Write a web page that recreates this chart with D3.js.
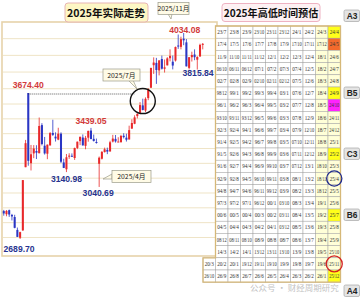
<!DOCTYPE html>
<html>
<head>
<meta charset="utf-8">
<script src="https://cdn.jsdelivr.net/npm/d3@7"></script>
<style>
html, body { margin: 0; padding: 0; background: #fff; }
svg { display: block; }
</style>
</head>
<body>
<svg id="chart" width="360" height="300"></svg>
<script>
// Weekly candles, Aug 2024 - Dec 2025.
var weeks = ['24/08/09','24/08/16','24/08/23','24/08/30','24/09/06','24/09/13','24/09/20','24/09/27','24/09/30',
    '24/10/11','24/10/18','24/10/25','24/11/01','24/11/08','24/11/15','24/11/22','24/11/29','24/12/06','24/12/13',
    '24/12/20','24/12/27','25/01/03','25/01/10','25/01/17','25/01/24','25/01/27','25/02/07','25/02/14','25/02/21',
    '25/02/28','25/03/07','25/03/14','25/03/21','25/03/28','25/04/03','25/04/11','25/04/18','25/04/25','25/04/30',
    '25/05/09','25/05/16','25/05/23','25/05/30','25/06/06','25/06/13','25/06/20','25/06/27','25/07/04','25/07/11',
    '25/07/18','25/07/25','25/08/01','25/08/08','25/08/15','25/08/22','25/08/29','25/09/05','25/09/12','25/09/19',
    '25/09/26','25/09/30','25/10/10','25/10/17','25/10/24','25/10/31','25/11/07','25/11/14','25/11/21','25/11/28',
    '25/12/05','25/12/12','25/12/19','25/12/26','25/12/31'];
var opens = [2878,2857,2884,2852,2838,2751,2698,2748,3174,3674.4,3201,3267,3283,3268,3458,3319,3265,3321,3405,
    3380,3360,3400,3206,3160,3245,3251,3236,3304,3350,3374,3318,3373,3421,3365,3344,3197,3231,3276,3291,
    3280,3347,3365,3345,3342,3386,3373,3361,3434,3467,3519,3540,3591,3556,3640,3706,3841,3855,3810,3878,
    3820,3840,3883,3862,3869,3959,3951,4000,3978,3825,3889,3905,3874,3893,3965];
var highs = [2886,2885,2888,2859,2853,2767,2739,3087,3358,3674.4,3324,3323,3322,3509,3471,3378,3327,3411,3494,
    3409,3440,3409,3231,3263,3268,3267,3306,3347,3380,3395,3385,3420,3439.05,3394,3367,3246,3283,3306,3306,
    3352,3392,3391,3376,3392,3403,3400,3454,3497,3524,3537,3613,3636,3645,3704,3825,3888,3885,3871,3899,
    3875,3889,3936,3899,3953,4025,4012,4034.08,3998,3889,3922,3936,3895,3970,3974];
var lows = [2847,2843,2839,2815,2762,2703,2689.7,2744,3174,3184,3152,3235,3229,3268,3321,3259,3228,3320,3385,
    3347,3356,3202,3168,3140.98,3230,3246,3223,3296,3323,3320,3295,3346,3362,3347,3333,3040.69,3226,3273,3262,
    3280,3341,3340,3345,3342,3368,3347,3361,3434,3464,3503,3534,3557,3546,3626,3705,3789,3729,3780,3815,
    3797,3840,3864,3816,3863,3939,3936,3961,3834,3815.84,3863,3871,3815,3893,3936];
var closes = [2862,2879,2855,2842,2765,2704,2736,3087,3336,3217,3261,3300,3272,3452,3330,3267,3326,3404,3392,
    3368,3400,3211,3169,3241,3252,3250,3303,3346,3379,3321,3372,3419,3364,3351,3342,3238,3277,3295,3279,
    3342,3367,3348,3347,3385,3377,3359,3424,3472,3510,3534,3593,3560,3635,3697,3825,3857,3812,3870,3820,
    3828,3882,3897,3839,3950,3954,3997,3990,3834,3889,3902,3889,3890,3963,3969];

var gridLevels = [2700,2800,2900,3000,3100,3200,3300,3400,3500,3600,3700,3800,3900,4000];

// Marked highs and lows.
var markWeeks = ['24/10/11','25/03/21','25/11/14','24/09/20','25/01/17','25/04/11','25/11/28'];
var markValues = [3674.40, 3439.05, 4034.08, 2689.70, 3140.98, 3040.69, 3815.84];
var markTypes = ['high','high','high','low','low','low','low'];

var callouts = ['2025/11月', '2025/7月', '2025/4月'];
var titles = ['2025年实际走势', '2025年高低时间预估'];

// Month table, one list per row (last two rows start one column further left).
var tableRows = [
    ['23/7','23/8','23/9','23/10','23/11','23/12','24/1','24/2','24/3','24/4'],
    ['17/4','17/5','17/6','17/7','17/8','17/9','17/10','17/11','17/12','24/5'],
    ['11/9','11/10','11/11','11/12','12/1','12/2','12/3','12/4','18/1','24/6'],
    ['06/10','06/11','06/12','07/1','07/2','07/3','07/4','12/5','18/2','24/7'],
    ['02/7','02/8','02/9','02/10','02/11','02/12','07/5','12/6','18/3','24/8'],
    ['98/12','99/1','99/2','99/3','99/4','03/1','07/6','12/7','18/4','24/9'],
    ['96/1','96/2','96/3','96/4','99/5','03/2','07/7','12/8','18/5','24/10'],
    ['93/10','93/11','93/12','96/5','99/6','03/3','07/8','12/9','18/6','24/11'],
    ['92/3','92/4','94/1','96/6','99/7','03/4','07/9','12/10','18/7','24/12'],
    ['91/4','92/5','94/2','96/7','99/8','03/5','07/10','12/11','18/8','25/1'],
    ['91/5','92/6','94/3','96/8','99/9','03/6','07/11','12/12','18/9','25/2'],
    ['91/6','92/7','94/4','96/9','99/10','03/7','07/12','13/1','18/10','25/3'],
    ['92/9','92/8','94/5','96/10','99/11','03/8','08/1','13/2','18/11','25/4'],
    ['94/8','94/7','94/6','96/11','99/12','03/9','08/2','13/3','18/12','25/5'],
    ['97/3','97/2','97/1','96/12','00/1','03/10','08/3','13/4','19/1','25/6'],
    ['00/6','00/5','00/4','00/3','00/2','03/11','08/4','13/5','19/2','25/7'],
    ['04/5','04/4','04/3','04/2','04/1','03/12','08/5','13/6','19/3','25/8'],
    ['08/12','08/11','08/10','08/9','08/8','08/7','08/6','13/7','19/4','25/9'],
    ['14/3','14/2','14/1','13/12','13/11','13/10','13/9','13/8','19/5','25/10'],
    ['20/3','20/2','20/1','19/12','19/11','19/10','19/9','19/8','19/7','19/6','25/11'],
    ['26/10','26/9','26/8','26/7','26/6','26/5','26/4','26/3','26/2','26/1','25/12']
];
var highlightCells = ['24/4','24/5','24/9','24/10','25/2','25/7','25/12'];
var highlightKinds = ['yellow','orange','yellow','magenta','yellow','yellow','yellow'];
var sideLabels = ['A3','B5','C3','B6','A4'];
var sideRows = [0, 5, 10, 15, 21];

var svg = d3.select('#chart');
var UP = '#e8282a', DOWN = '#2a36c4';
var CJK = '"Noto Sans CJK SC", "Noto Sans", sans-serif';

// ---- left chart ----
var panel = { left: 2, top: 22, right: 217, bottom: 256 };

var x = d3.scaleBand()
    .domain(weeks)
    .range([2.05, 204.45])
    .padding(0.25);
var xc = function(w) { return x(w) + x.bandwidth() / 2; };

var y = d3.scaleLinear()
    .domain([2689.7, 3674.4, 4034.08])
    .range([239, 93, 33]);

svg.append('rect')
    .attr('x', panel.left).attr('y', panel.top)
    .attr('width', panel.right - panel.left)
    .attr('height', panel.bottom - panel.top)
    .attr('fill', '#fff')
    .attr('stroke', '#e6d3aa')
    .attr('stroke-width', 1.6);

svg.append('g').selectAll('line')
    .data(gridLevels)
    .enter().append('line')
    .attr('x1', panel.left + 1).attr('x2', panel.right - 1)
    .attr('y1', function(d) { return y(d); })
    .attr('y2', function(d) { return y(d); })
    .attr('stroke', '#efe4c6')
    .attr('stroke-width', 1);

var candles = weeks.map(function(w, i) {
    return { week: w, o: opens[i], h: highs[i], l: lows[i], c: closes[i] };
});

var cg = svg.append('g');
cg.selectAll('line')
    .data(candles)
    .enter().append('line')
    .attr('x1', function(d) { return xc(d.week); })
    .attr('x2', function(d) { return xc(d.week); })
    .attr('y1', function(d) { return y(d.h); })
    .attr('y2', function(d) { return y(d.l); })
    .attr('stroke', function(d) { return d.c >= d.o ? UP : DOWN; })
    .attr('stroke-width', 0.8);

cg.selectAll('rect')
    .data(candles)
    .enter().append('rect')
    .attr('x', function(d) { return x(d.week); })
    .attr('width', x.bandwidth())
    .attr('y', function(d) { return y(Math.max(d.o, d.c)); })
    .attr('height', function(d) { return Math.max(1, Math.abs(y(d.o) - y(d.c))); })
    .attr('fill', function(d) { return d.c >= d.o ? UP : DOWN; });

// dotted level from the October spike
svg.append('line')
    .attr('x1', xc('24/10/11')).attr('x2', xc('25/07/11'))
    .attr('y1', y(3674.4) + 1).attr('y2', y(3674.4) + 1)
    .attr('stroke', '#333')
    .attr('stroke-width', 0.8)
    .attr('stroke-dasharray', '1,1');

// value labels
var labelShift = {
    '3674.40': [0, -5], '3439.05': [0, -3.5], '4034.08': [1, -0.5],
    '2689.70': [-1, 12.5], '3140.98': [0, 9.5], '3040.69': [-1, 9.5], '3815.84': [9, 7]
};
svg.append('g').selectAll('text')
    .data(markValues)
    .enter().append('text')
    .attr('x', function(d, i) { return xc(markWeeks[i]) + labelShift[d.toFixed(2)][0]; })
    .attr('y', function(d, i) { return y(d) + labelShift[d.toFixed(2)][1]; })
    .attr('text-anchor', 'middle')
    .attr('font-family', '"Liberation Sans", Arial, sans-serif')
    .attr('font-weight', 'bold')
    .attr('font-size', 8.6)
    .attr('fill', function(d, i) { return markTypes[i] == 'high' ? '#d23a3a' : '#27338f'; })
    .text(function(d) { return d.toFixed(2); });

// July circle
svg.append('circle')
    .attr('cx', xc('25/08/01')).attr('cy', y(3620))
    .attr('r', 12.5)
    .attr('fill', 'none')
    .attr('stroke', '#111')
    .attr('stroke-width', 1.4);

// callout boxes
function callout(text, bx, by, bw, tail) {
    var g = svg.append('g');
    g.append('path')
        .attr('d', 'M' + tail[0] + ',' + tail[1] + 'L' + tail[2] + ',' + tail[3] + 'L' + tail[4] + ',' + tail[5] + 'Z')
        .attr('fill', '#fffbe6')
        .attr('stroke', '#9a9a8a')
        .attr('stroke-width', 0.7);
    g.append('rect')
        .attr('x', bx).attr('y', by)
        .attr('width', bw).attr('height', 12)
        .attr('fill', '#fffbe6')
        .attr('stroke', '#9a9a8a')
        .attr('stroke-width', 0.7);
    g.append('text')
        .attr('x', bx + bw / 2).attr('y', by + 8.6)
        .attr('text-anchor', 'middle')
        .attr('font-family', CJK)
        .attr('font-size', 6.8)
        .attr('fill', '#222')
        .text(text);
}
callout(callouts[0], 158, 2.5, 31, [168, 14, 172, 14, 171, 19]);
callout(callouts[1], 103, 69, 37, [128, 80, 133, 80, 137, 89]);
callout(callouts[2], 112, 170.5, 39, [112, 174, 112, 179, 103, 179]);

// titles
svg.append('rect')
    .attr('x', 65).attr('y', 3).attr('width', 83).attr('height', 19).attr('rx', 3)
    .attr('fill', '#fdf7c4').attr('stroke', '#e7b5b5').attr('stroke-width', 1);
svg.append('text')
    .attr('x', 106).attr('y', 16.5)
    .attr('text-anchor', 'middle')
    .attr('font-family', CJK).attr('font-weight', 'bold').attr('font-size', 10.6)
    .attr('fill', '#111')
    .text(titles[0]);

svg.append('rect')
    .attr('x', 222).attr('y', 3.5).attr('width', 98).attr('height', 18).attr('rx', 3)
    .attr('fill', '#fdf1f3').attr('stroke', '#eeb2c2').attr('stroke-width', 1);
svg.append('text')
    .attr('x', 271).attr('y', 16.5)
    .attr('text-anchor', 'middle')
    .attr('font-family', CJK).attr('font-weight', 'bold').attr('font-size', 10.1)
    .attr('fill', '#111')
    .text(titles[1]);

// ---- month table ----
var colX = d3.scaleBand().domain(d3.range(11)).range([203, 340.5]);
var rowY = d3.scaleBand().domain(d3.range(tableRows.length)).range([26, 282.2]);

var cells = [];
tableRows.forEach(function(row, r) {
    var start = 11 - row.length;
    row.forEach(function(t, k) { cells.push({ r: r, c: start + k, t: t }); });
});

var fills = { yellow: '#ffff1a', orange: '#f36a2c', magenta: '#ff22ff' };
function cellFill(d) {
    var h = highlightCells.indexOf(d.t);
    if(d.c == 10 && h >= 0) return fills[highlightKinds[h]];
    if(d.c == 9 || d.c == 10) return '#ffffd8';
    return '#fff';
}

var tg = svg.append('g');
tg.selectAll('rect')
    .data(cells)
    .enter().append('rect')
    .attr('x', function(d) { return colX(d.c); })
    .attr('y', function(d) { return rowY(d.r); })
    .attr('width', colX.bandwidth())
    .attr('height', rowY.bandwidth())
    .attr('fill', cellFill)
    .attr('stroke', '#a3a3a3')
    .attr('stroke-width', 0.5);

tg.selectAll('text')
    .data(cells)
    .enter().append('text')
    .attr('x', function(d) { return colX(d.c) + colX.bandwidth() / 2; })
    .attr('y', function(d) { return rowY(d.r) + rowY.bandwidth() / 2 + 2; })
    .attr('text-anchor', 'middle')
    .attr('font-family', '"Liberation Serif", "DejaVu Serif", serif')
    .attr('font-size', 5.6)
    .attr('fill', '#333')
    .attr('textLength', function(d) { return d.t.length > 4 ? 10.2 : 9.2; })
    .attr('lengthAdjust', 'spacingAndGlyphs')
    .text(function(d) { return d.t; });

// outer border of the table
svg.append('path')
    .attr('d', 'M' + colX(1) + ',' + rowY(0) + 'H' + (colX(10) + colX.bandwidth()) +
        'V' + (rowY(20) + rowY.bandwidth()) + 'H' + colX(0) + 'V' + rowY(19) + 'H' + colX(1) + 'Z')
    .attr('fill', 'none')
    .attr('stroke', '#d6b878')
    .attr('stroke-width', 1.3);

// circled months
var cellCenter = function(r, c) {
    return [colX(c) + colX.bandwidth() / 2, rowY(r) + rowY.bandwidth() / 2];
};
var blueAt = cellCenter(12, 10), redAt = cellCenter(19, 10);
svg.append('circle')
    .attr('cx', blueAt[0]).attr('cy', blueAt[1]).attr('r', 7.6)
    .attr('fill', 'none').attr('stroke', '#1f2a8c').attr('stroke-width', 1.3);
svg.append('circle')
    .attr('cx', redAt[0]).attr('cy', redAt[1]).attr('r', 8)
    .attr('fill', 'none').attr('stroke', '#d42020').attr('stroke-width', 1.3);

// side tags
var sg = svg.append('g').selectAll('g')
    .data(sideLabels)
    .enter().append('g')
    .attr('transform', function(d, i) {
        var top = sideRows[i] == 21 ? 285 : (sideRows[i] == 0 ? 10 : rowY(sideRows[i]));
        return 'translate(344,' + top + ')';
    });
sg.append('rect')
    .attr('width', 15.5).attr('height', 11.5).attr('rx', 1.5)
    .attr('fill', '#e4e4e4').attr('stroke', '#a6a6a6').attr('stroke-width', 0.7);
sg.append('text')
    .attr('x', 8).attr('y', 8.6)
    .attr('text-anchor', 'middle')
    .attr('font-family', '"Liberation Sans", Arial, sans-serif')
    .attr('font-weight', 'bold').attr('font-size', 8.4)
    .attr('fill', '#222')
    .text(function(d) { return d; });

// watermark
svg.append('text')
    .attr('x', 250).attr('y', 291)
    .attr('font-family', CJK).attr('font-size', 8.5)
    .attr('fill', '#9a9a9a').attr('opacity', 0.6)
    .text('公众号 · 财经周期研究');
</script>
</body>
</html>
